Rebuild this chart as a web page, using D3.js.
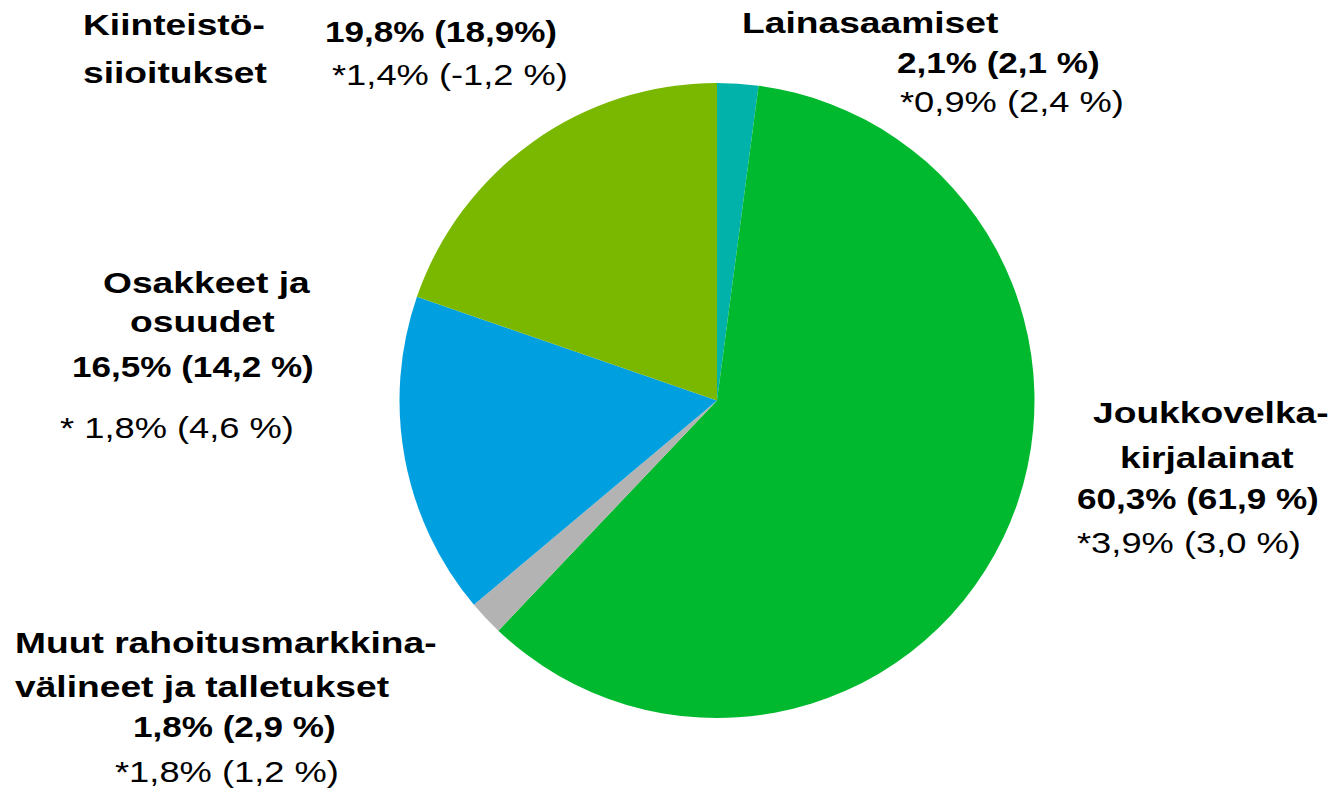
<!DOCTYPE html>
<html>
<head>
<meta charset="utf-8">
<script src="https://cdn.jsdelivr.net/npm/d3@7"></script>
<style>
  body { margin: 0; background: #fff; }
  text { font-family: "Liberation Sans", Arial, sans-serif; fill: #000; }
</style>
</head>
<body>
<div id="vis"></div>
<script>
// slices, clockwise from 12 o'clock
var categories = ['Lainasaamiset', 'Joukkovelkakirjalainat', 'Muut rahoitusmarkkinavälineet ja talletukset', 'Osakkeet ja osuudet', 'Kiinteistösijoitukset'];
var nameLines = [['Lainasaamiset'], ['Joukkovelka-', 'kirjalainat'], ['Muut rahoitusmarkkina-', 'välineet ja talletukset'], ['Osakkeet ja', 'osuudet'], ['Kiinteistö-', 'siioitukset']];
var share = [2.1, 60.3, 1.8, 16.5, 19.8];
var sharePrev = [2.1, 61.9, 2.9, 14.2, 18.9];
var returns = [0.9, 3.9, 1.8, 1.8, 1.4];
var returnsPrev = [2.4, 3.0, 1.2, 4.6, -1.2];
var colors = ['#00b2aa', '#00b92e', '#b3b3b3', '#00a0e0', '#7ab800'];

// small quirks of the original label texts
var prevPctSpace = [' ', ' ', ' ', ' ', ''];
var starSpace = ['', '', '', ' ', ''];

var width = 1334, height = 800;
var center = { x: 717, y: 400.5 };
var radius = 317.5;

// left edge and baseline of each label line (names, share, return)
var labelPos = [
  [[742, 33], [897, 73], [900, 112]],
  [[1093, 423], [1120, 468], [1077, 509], [1077, 553]],
  [[15, 653], [15, 697], [133, 737], [115, 782]],
  [[103, 293], [130, 332], [72, 377], [60, 438]],
  [[83, 35], [83, 83], [325, 42], [332, 85]]
];

// horizontal stretch of the text, as in the original picture
var stretch = { name: 1.24, share: 1.17, ret: 1.21 };

// decimal comma, plain hyphen for negatives
var fmt = function (v) { return d3.format('.1f')(v).replace('.', ',').replace('\u2212', '-'); };

var svg = d3.select('#vis').append('svg')
  .attr('width', width)
  .attr('height', height);

var pie = d3.pie().sort(null).value(function (d) { return d; });
var arc = d3.arc().innerRadius(0).outerRadius(radius);

svg.append('g')
  .attr('transform', 'translate(' + center.x + ',' + center.y + ')')
  .selectAll('path')
  .data(pie(share))
  .enter().append('path')
  .attr('d', arc)
  .attr('fill', function (d, i) { return colors[i]; });

// build the label lines
categories.forEach(function (c, i) {
  var lines = nameLines[i].map(function (t) { return { t: t, kind: 'name' }; });
  lines.push({ t: fmt(share[i]) + '% (' + fmt(sharePrev[i]) + prevPctSpace[i] + '%)', kind: 'share' });
  lines.push({ t: '*' + starSpace[i] + fmt(returns[i]) + '% (' + fmt(returnsPrev[i]) + ' %)', kind: 'ret' });

  lines.forEach(function (l, j) {
    var p = labelPos[i][j];
    svg.append('text')
      .attr('transform', 'translate(' + p[0] + ',' + p[1] + ') scale(' + stretch[l.kind] + ',1)')
      .style('font-size', '30px')
      .style('font-weight', l.kind === 'ret' ? 'normal' : 'bold')
      .text(l.t);
  });
});
</script>
</body>
</html>
